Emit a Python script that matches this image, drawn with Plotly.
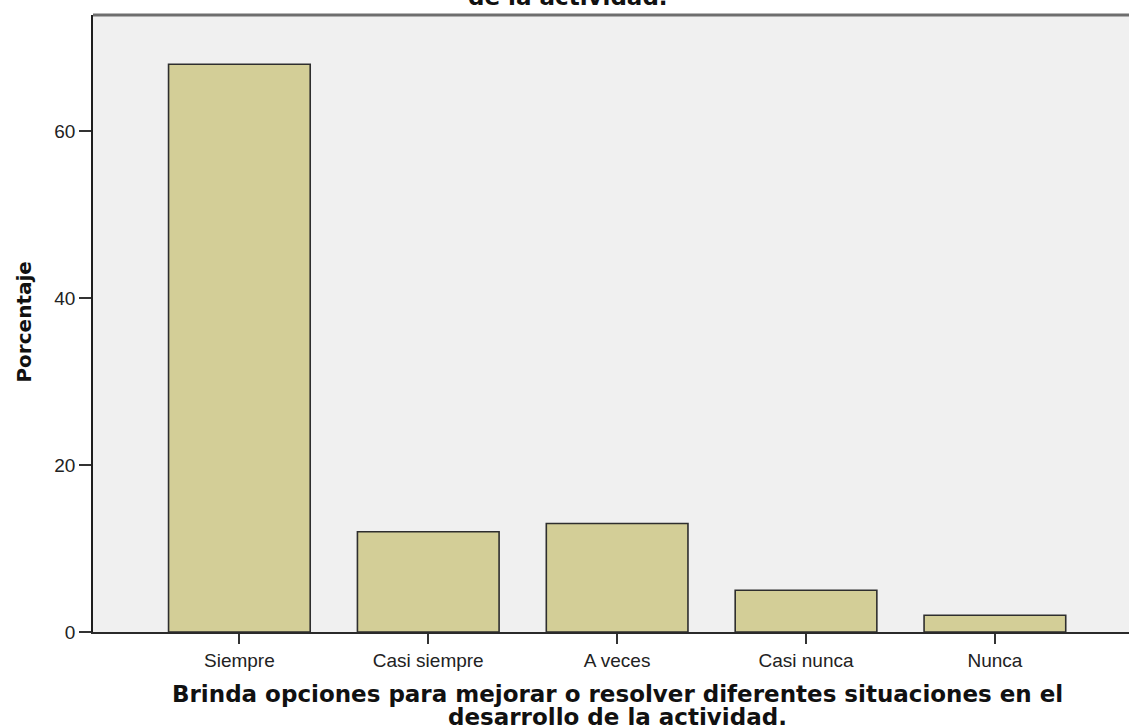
import plotly.graph_objects as go

categories = ["Siempre", "Casi siempre", "A veces", "Casi nunca", "Nunca"]
percentages = [68, 12, 13, 5, 2]
y_ticks = [0, 20, 40, 60]

x_title_lines = [
    "Brinda opciones para mejorar o resolver diferentes situaciones en el",
    "desarrollo de la actividad.",
]
top_title_line = "de la actividad."
y_title = "Porcentaje"

W, H = 1129, 727
ml, mt, mr, mb = 92.5, 15, 0, 95
pw = W - ml - mr
ph = H - mt - mb

def px_to_paper_x(px):
    return (px - ml) / pw

def px_to_paper_y(py):
    return (H - mb - py) / ph

TITLE_FONT = "DejaVu Sans, Verdana, sans-serif"
TICK_FONT = "Liberation Sans, Arial, sans-serif"

fig = go.Figure()
fig.add_trace(go.Bar(
    x=categories,
    y=percentages,
    width=0.75,
    marker=dict(color="#D3CE97", line=dict(color="#2E2E2E", width=1.6)),
    hoverinfo="skip",
))

annotations = [
    dict(text="<b>" + y_title + "</b>", textangle=-90, showarrow=False,
         xref="paper", yref="paper",
         x=px_to_paper_x(23), y=px_to_paper_y(322),
         xanchor="center", yanchor="middle",
         font=dict(size=20, color="#111", family=TITLE_FONT)),
    dict(text="<b>" + x_title_lines[0] + "</b>", showarrow=False,
         xref="paper", yref="paper",
         x=px_to_paper_x(617), y=px_to_paper_y(694),
         xanchor="center", yanchor="middle",
         font=dict(size=23, color="#111", family=TITLE_FONT)),
    dict(text="<b>" + x_title_lines[1] + "</b>", showarrow=False,
         xref="paper", yref="paper",
         x=px_to_paper_x(617), y=px_to_paper_y(717),
         xanchor="center", yanchor="middle",
         font=dict(size=23, color="#111", family=TITLE_FONT)),
    dict(text="<b>" + top_title_line + "</b>", showarrow=False,
         xref="paper", yref="paper",
         x=px_to_paper_x(568), y=px_to_paper_y(-3),
         xanchor="center", yanchor="middle",
         font=dict(size=23, color="#111", family=TITLE_FONT)),
]

fig.update_layout(
    width=W, height=H,
    margin=dict(l=ml, r=mr, t=mt, b=mb, pad=0),
    paper_bgcolor="white",
    plot_bgcolor="#F0F0F0",
    showlegend=False,
    font=dict(family=TICK_FONT, color="#222"),
    xaxis=dict(
        type="category",
        range=[-0.775, 4.71],
        showline=True, linecolor="#2A2A2A", linewidth=1.8,
        ticks="outside", ticklen=10, tickwidth=1.5, tickcolor="#333",
        tickfont=dict(size=19, color="#222"),
        showgrid=False, zeroline=False, automargin=False,
        fixedrange=True,
    ),
    yaxis=dict(
        range=[0, 73.9],
        tickvals=y_ticks,
        showline=True, linecolor="#1E1E1E", linewidth=1.6,
        ticks="outside", ticklen=12, tickwidth=1.5, tickcolor="#333",
        tickfont=dict(size=19, color="#222"),
        showgrid=False, zeroline=False, automargin=False,
        fixedrange=True,
    ),
    shapes=[
        dict(type="line", xref="paper", yref="paper", x0=0, x1=1, y0=1, y1=1,
             line=dict(color="#6E6E6E", width=3)),
    ],
    annotations=annotations,
)

fig.write_html(
    "out.html",
    config={"displayModeBar": False},
    post_script="document.body.style.margin='0';document.body.style.overflow='hidden';",
)
